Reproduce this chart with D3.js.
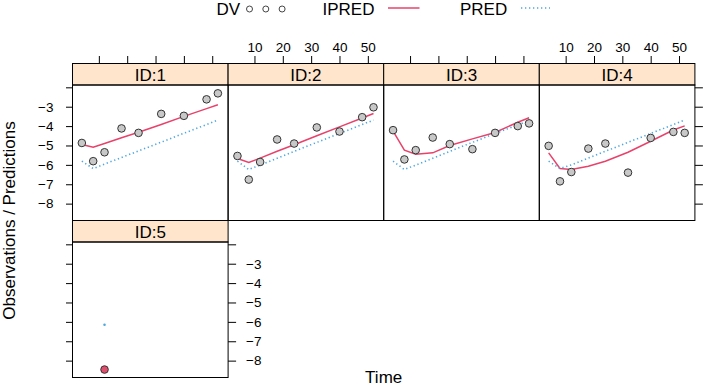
<!DOCTYPE html>
<html>
<head>
<meta charset="utf-8">
<script src="https://cdn.jsdelivr.net/npm/d3@7.9.0/dist/d3.min.js"></script>
<style>
  body { margin: 0; background: #fff; }
  svg { font-family: "Liberation Sans", Arial, Helvetica, sans-serif; }
</style>
</head>
<body>
<svg id="chart" width="706" height="386"></svg>
<script>
// data
const ids = ["ID:1", "ID:2", "ID:3", "ID:4", "ID:5"];
const times = [4, 8, 12, 18, 24, 32, 40, 48, 52];
const times5 = [12];

const dv = [
  [-4.87, -5.81, -5.35, -4.12, -4.35, -3.37, -3.47, -2.62, -2.31],
  [-5.54, -6.76, -5.85, -4.69, -4.90, -4.07, -4.28, -3.54, -3.03],
  [-4.21, -5.72, -5.24, -4.59, -4.93, -5.19, -4.35, -4.00, -3.86],
  [-5.02, -6.85, -6.37, -5.16, -4.90, -6.40, -4.61, -4.30, -4.35],
  [-8.46]
];
const ipred = [
  [-4.95, -5.09, -4.90, -4.60, -4.32, -3.92, -3.50, -3.10, -2.90],
  [-5.67, -5.88, -5.65, -5.30, -4.96, -4.50, -4.04, -3.58, -3.35],
  [-4.26, -5.24, -5.45, -5.38, -5.00, -4.66, -4.33, -3.80, -3.57],
  [-5.38, -6.19, -6.24, -6.07, -5.81, -5.35, -4.78, -4.20, -3.99],
  []
];
const pred = [
  [-5.81, -6.19, -5.96, -5.62, -5.28, -4.83, -4.37, -3.92, -3.69],
  [-5.81, -6.24, -6.01, -5.66, -5.31, -4.84, -4.38, -3.92, -3.69],
  [-5.81, -6.24, -6.01, -5.66, -5.31, -4.84, -4.38, -3.94, -3.73],
  [-5.81, -6.19, -6.00, -5.65, -5.30, -4.84, -4.38, -3.92, -3.69],
  [-6.15]
];
const xTicks = [10, 20, 30, 40, 50];
const yTicks = [-2, -3, -4, -5, -6, -7, -8];

const red = "#e8426a";
const blue = "#4ea7e0";
const stripFill = "#ffe5cc";

const svg = d3.select("#chart");

// panel layout (lattice 4 x 2, last row only one panel)
const left = 72.5, panelW = 155.6, stripH = 21.5, panelH = 135.5, top0 = 63.5;

const x = d3.scaleLinear().domain([0.7, 55.6]).range([0, panelW]);
const y = d3.scaleLinear().domain([-8.87, -1.88]).range([panelH, 0]);

const line = d3.line().x((d, i) => x(d[0])).y(d => y(d[1]));

ids.forEach((id, k) => {
  const col = k % 4, row = Math.floor(k / 4);
  const px = left + col * panelW;
  const sy = top0 + row * (stripH + panelH);
  const py = sy + stripH;
  const tx = k < 4 ? times : times5;

  // strip
  svg.append("rect")
    .attr("x", px).attr("y", sy).attr("width", panelW).attr("height", stripH)
    .attr("fill", stripFill).attr("stroke", "#000").attr("stroke-width", 1);
  svg.append("text")
    .attr("x", px + panelW / 2).attr("y", sy + 17.5)
    .attr("text-anchor", "middle").attr("font-size", 17)
    .text(id);

  const g = svg.append("g").attr("transform", `translate(${px},${py})`);

  // lines
  if (ipred[k].length > 1) {
    g.append("path")
      .datum(tx.map((t, i) => [t, ipred[k][i]]))
      .attr("fill", "none").attr("stroke", red).attr("stroke-width", 1.5)
      .attr("d", line);
  }
  if (pred[k].length > 1) {
    g.append("path")
      .datum(tx.map((t, i) => [t, pred[k][i]]))
      .attr("fill", "none").attr("stroke", blue).attr("stroke-width", 1.6)
      .attr("stroke-dasharray", "1.3,2.7")
      .attr("d", line);
  } else {
    g.selectAll(".pdot").data(pred[k]).join("circle")
      .attr("cx", (d, i) => x(tx[i])).attr("cy", d => y(d))
      .attr("r", 1.3).attr("fill", blue);
  }

  // observations
  const single = dv[k].length === 1;
  g.selectAll(".obs").data(dv[k]).join("circle")
    .attr("cx", (d, i) => x(tx[i])).attr("cy", d => y(d))
    .attr("r", 3.8)
    .attr("fill", single ? "#de4f6e" : "#c8c8c8")
    .attr("stroke", "#333").attr("stroke-width", 1);

  // panel border
  g.append("rect")
    .attr("width", panelW).attr("height", panelH)
    .attr("fill", "none").attr("stroke", "#000").attr("stroke-width", 1);

  // left axis (labels only on top row)
  if (col === 0) {
    const ax = g.append("g").call(d3.axisLeft(y).tickValues(yTicks)
      .tickSize(6.5).tickPadding(12.5)
      .tickFormat(d => (row === 0 && d !== -2) ? d3.format("d")(d) : ""));
    styleAxis(ax);
  }
  // right axis
  if (col === 3 || k === 4) {
    const ax = g.append("g").attr("transform", `translate(${panelW},0)`)
      .call(d3.axisRight(y).tickValues(yTicks)
        .tickSize(8).tickPadding(10)
        .tickFormat(d => (k === 4 && d !== -2) ? d3.format("d")(d) : ""));
    styleAxis(ax);
  }
  // top axis on first row
  if (row === 0) {
    const ax = svg.append("g").attr("transform", `translate(${px},${sy})`)
      .call(d3.axisTop(x).tickValues(xTicks)
        .tickSize(7.5).tickPadding(4)
        .tickFormat(d => (col % 2 === 1) ? d : ""));
    styleAxis(ax);
  }
});

function styleAxis(ax) {
  ax.select(".domain").remove();
  ax.selectAll(".tick line").attr("stroke", "#000").attr("stroke-width", 1);
  ax.selectAll(".tick text").attr("fill", "#000").attr("font-size", 13.5)
    .attr("font-family", "Liberation Sans, Arial, sans-serif");
}

// axis titles
svg.append("text")
  .attr("x", left + 2 * panelW).attr("y", 383)
  .attr("text-anchor", "middle").attr("font-size", 17)
  .text("Time");
svg.append("text")
  .attr("transform", `translate(15,${top0 + stripH + panelH})rotate(-90)`)
  .attr("text-anchor", "middle").attr("font-size", 17)
  .text("Observations / Predictions");

// legend
const leg = svg.append("g");
leg.append("text").attr("x", 216.5).attr("y", 15).attr("font-size", 17).text("DV");
leg.selectAll(".lc").data([0, 1, 2]).join("circle")
  .attr("cx", d => 249.5 + d * 16.3).attr("cy", 9).attr("r", 3)
  .attr("fill", "none").attr("stroke", "#444").attr("stroke-width", 1);
leg.append("text").attr("x", 322.5).attr("y", 15).attr("font-size", 17).text("IPRED");
leg.append("line").attr("x1", 388).attr("x2", 419.5).attr("y1", 8).attr("y2", 8)
  .attr("stroke", red).attr("stroke-width", 1.5);
leg.append("text").attr("x", 460).attr("y", 15).attr("font-size", 17).text("PRED");
leg.append("line").attr("x1", 521).attr("x2", 550).attr("y1", 8).attr("y2", 8)
  .attr("stroke", blue).attr("stroke-width", 1.6).attr("stroke-dasharray", "1.3,2.7");
</script>
</body>
</html>
